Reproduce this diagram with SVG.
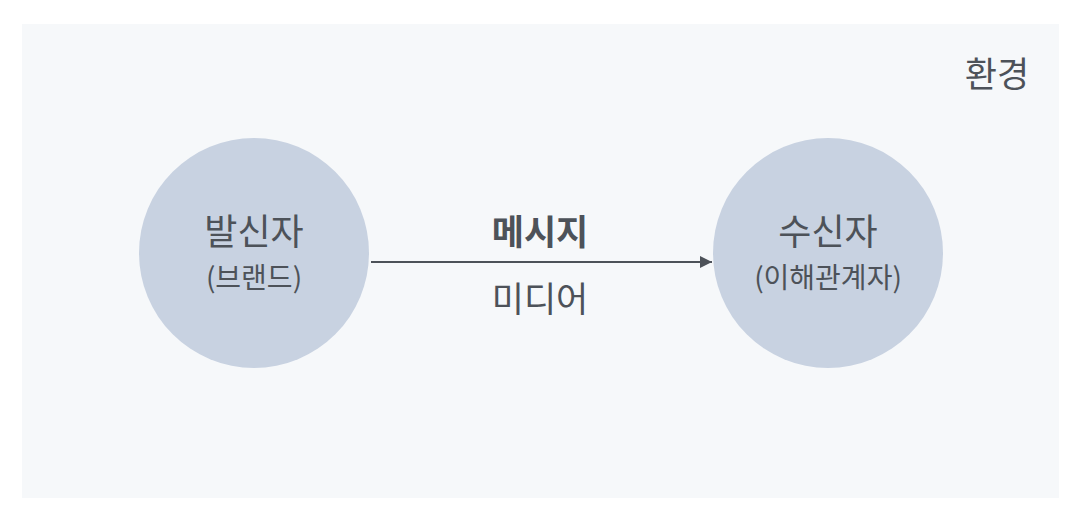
<svg xmlns="http://www.w3.org/2000/svg" width="1081" height="523" viewBox="0 0 1081 523">
<style>
text{font-family:"Noto Sans CJK KR","Noto Sans",sans-serif;fill:#4d5259;text-anchor:middle}
.node{fill:#c8d2e1}
.t{font-size:36px}
.s{font-size:28px}
.m{font-size:35px}
</style>
<defs>
<marker id="ah" viewBox="0 0 10 10" refX="10" refY="5" markerWidth="12" markerHeight="12" markerUnits="userSpaceOnUse" orient="auto">
<path d="M0,0 L10,5 L0,10 z" fill="#4d5259"/>
</marker>
</defs>
<rect width="1081" height="523" fill="#ffffff"/>
<rect id="env" x="22" y="24" width="1037" height="474" fill="#f6f8fa"/>
<text x="997" y="87" class="m">환경</text>
<g id="sender">
<circle class="node" cx="254" cy="253" r="115"/>
<text x="254" y="245" class="t">발신자</text>
<text x="254" y="288" class="s">(브랜드)</text>
</g>
<g id="receiver">
<circle class="node" cx="828" cy="253" r="115"/>
<text x="828" y="245" class="t">수신자</text>
<text x="828" y="288" class="s">(이해관계자)</text>
</g>
<g id="connectors">
<line x1="371" y1="262" x2="712" y2="262" stroke="#4d5259" stroke-width="2" marker-end="url(#ah)"/>
<text x="540" y="245" class="m" font-weight="bold">메시지</text>
<text x="540" y="312" class="m">미디어</text>
</g>
</svg>
